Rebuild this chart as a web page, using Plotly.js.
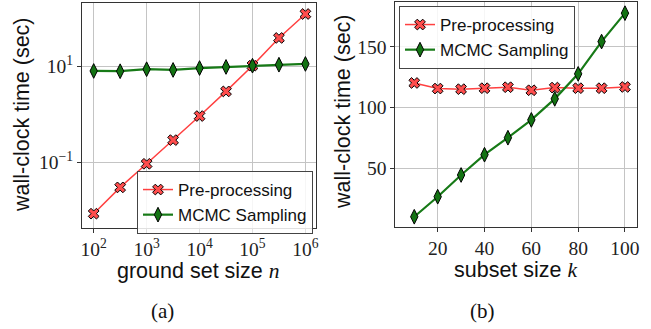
<!DOCTYPE html>
<html>
<head>
<meta charset="utf-8">
<script src="https://cdn.plot.ly/plotly-3.0.1.min.js"></script>
<style>html,body{margin:0;padding:0;background:#fff;}#chart{width:651px;height:329px;}</style>
</head>
<body>
<div id="chart"></div>
<script>
// Panel (a): ground set size n (log), wall-clock time (log)
const groundSetSizes = [100, 316, 1000, 3162, 10000, 31623, 100000, 316228, 1000000];
const preprocA = [0.0085, 0.030, 0.093, 0.29, 0.92, 3.0, 10.3, 39, 123];
const mcmcA = [8.0, 7.9, 8.7, 8.4, 9.2, 9.7, 10.3, 10.8, 11.2];
const xTickValsA = [100, 1000, 10000, 100000, 1000000];
const xTickTextA = ['10<sup>2</sup>', '10<sup>3</sup>', '10<sup>4</sup>', '10<sup>5</sup>', '10<sup>6</sup>'];
const yTickValsA = [0.1, 10];
const yTickTextA = ['10<sup>\u22121</sup>', '10<sup>1</sup>'];

// Panel (b): subset size k, wall-clock time
const subsetSizes = [10, 20, 30, 40, 50, 60, 70, 80, 90, 100];
const preprocB = [120.3, 115.7, 115.2, 116.0, 116.8, 114.3, 116.5, 116.0, 116.0, 117.0];
const mcmcB = [10.1, 26.6, 44.5, 61.2, 75.2, 89.9, 107.2, 127.8, 154.4, 177.8];
const xTickValsB = [20, 40, 60, 80, 100];
const yTickValsB = [50, 100, 150];

const seriesNames = ['Pre-processing', 'MCMC Sampling'];

const W = 651, H = 329;
const px = v => v / W;
const py = v => 1 - v / H;

const redLine = '#ff4040', redFill = '#ff4d4d';
const greenLine = '#177a17', greenFill = '#137313';

const redMarker = {symbol: 'x', size: 9.5, color: redFill, line: {color: '#000', width: 1}};
const greenMarker = {symbol: 'diamond-tall', size: 10.5, color: greenFill, line: {color: '#000', width: 1}};

const traces = [
  {x: groundSetSizes, y: preprocA, name: seriesNames[0], mode: 'lines+markers', xaxis: 'x', yaxis: 'y',
   line: {color: redLine, width: 1.5}, marker: redMarker, legend: 'legend'},
  {x: groundSetSizes, y: mcmcA, name: seriesNames[1], mode: 'lines+markers', xaxis: 'x', yaxis: 'y',
   line: {color: greenLine, width: 2.2}, marker: greenMarker, legend: 'legend'},
  {x: subsetSizes, y: preprocB, name: seriesNames[0], mode: 'lines+markers', xaxis: 'x2', yaxis: 'y2',
   line: {color: redLine, width: 1.5}, marker: redMarker, legend: 'legend2'},
  {x: subsetSizes, y: mcmcB, name: seriesNames[1], mode: 'lines+markers', xaxis: 'x2', yaxis: 'y2',
   line: {color: greenLine, width: 2.2}, marker: greenMarker, legend: 'legend2'}
];

const tickFont = {family: 'Liberation Serif, DejaVu Serif, serif', size: 19.5, color: '#222'};
const titleFont = {family: 'Liberation Sans, Arial, sans-serif', size: 21.5, color: '#111'};
const axisCommon = {
  showline: true, mirror: true, linecolor: '#333', linewidth: 1,
  showgrid: true, gridcolor: '#c4c4c4', gridwidth: 1,
  ticks: 'outside', ticklen: 4, tickcolor: '#333', tickwidth: 1,
  tickfont: tickFont, zeroline: false, fixedrange: true
};

const legendCommon = {
  font: {family: 'Liberation Sans, Arial, sans-serif', size: 17, color: '#111'},
  bgcolor: 'rgba(255,255,255,0.85)', bordercolor: '#444', borderwidth: 1,
  xanchor: 'left', yanchor: 'top', tracegroupgap: 0, itemwidth: 30
};

const mathFont = 'Liberation Serif, DejaVu Serif, serif';

const layout = {
  width: W, height: H,
  margin: {l: 0, r: 0, t: 0, b: 0},
  paper_bgcolor: '#fff', plot_bgcolor: '#fff',
  showlegend: true,
  xaxis: Object.assign({}, axisCommon, {
    type: 'log', domain: [px(82), px(316)], range: [1.779, 6.2],
    tickvals: xTickValsA, ticktext: xTickTextA, anchor: 'y'
  }),
  yaxis: Object.assign({}, axisCommon, {
    type: 'log', domain: [py(228), py(3)], range: [-2.369, 2.319],
    tickvals: yTickValsA, ticktext: yTickTextA, anchor: 'x'
  }),
  xaxis2: Object.assign({}, axisCommon, {
    domain: [px(395.3), px(636.7)], range: [1.9, 105],
    tickvals: xTickValsB, anchor: 'y2'
  }),
  yaxis2: Object.assign({}, axisCommon, {
    domain: [py(226.7), py(2)], range: [1.9, 187],
    tickvals: yTickValsB, anchor: 'x2'
  }),
  legend: Object.assign({}, legendCommon, {x: px(137), y: py(171)}),
  legend2: Object.assign({}, legendCommon, {x: px(399), y: py(6)}),
  annotations: [
    {text: 'wall-clock time (sec)', xref: 'paper', yref: 'paper', x: px(22), y: py(115),
     textangle: -90, showarrow: false, font: titleFont, xanchor: 'center', yanchor: 'middle'},
    {text: 'wall-clock time (sec)', xref: 'paper', yref: 'paper', x: px(343), y: py(112),
     textangle: -90, showarrow: false, font: titleFont, xanchor: 'center', yanchor: 'middle'},
    {text: 'ground set size <span style="font-family:' + mathFont + '"><i>n</i></span>', xref: 'paper', yref: 'paper',
     x: px(198), y: py(271), showarrow: false, font: titleFont, xanchor: 'center', yanchor: 'middle'},
    {text: 'subset size <span style="font-family:' + mathFont + '"><i>k</i></span>', xref: 'paper', yref: 'paper',
     x: px(516), y: py(270), showarrow: false, font: titleFont, xanchor: 'center', yanchor: 'middle'},
    {text: '(a)', xref: 'paper', yref: 'paper', x: px(162), y: py(311), showarrow: false,
     font: {family: mathFont, size: 21, color: '#111'}, xanchor: 'center', yanchor: 'middle'},
    {text: '(b)', xref: 'paper', yref: 'paper', x: px(482), y: py(311), showarrow: false,
     font: {family: mathFont, size: 21, color: '#111'}, xanchor: 'center', yanchor: 'middle'}
  ]
};

Plotly.newPlot('chart', traces, layout, {displayModeBar: false, staticPlot: true});
</script>
</body>
</html>
